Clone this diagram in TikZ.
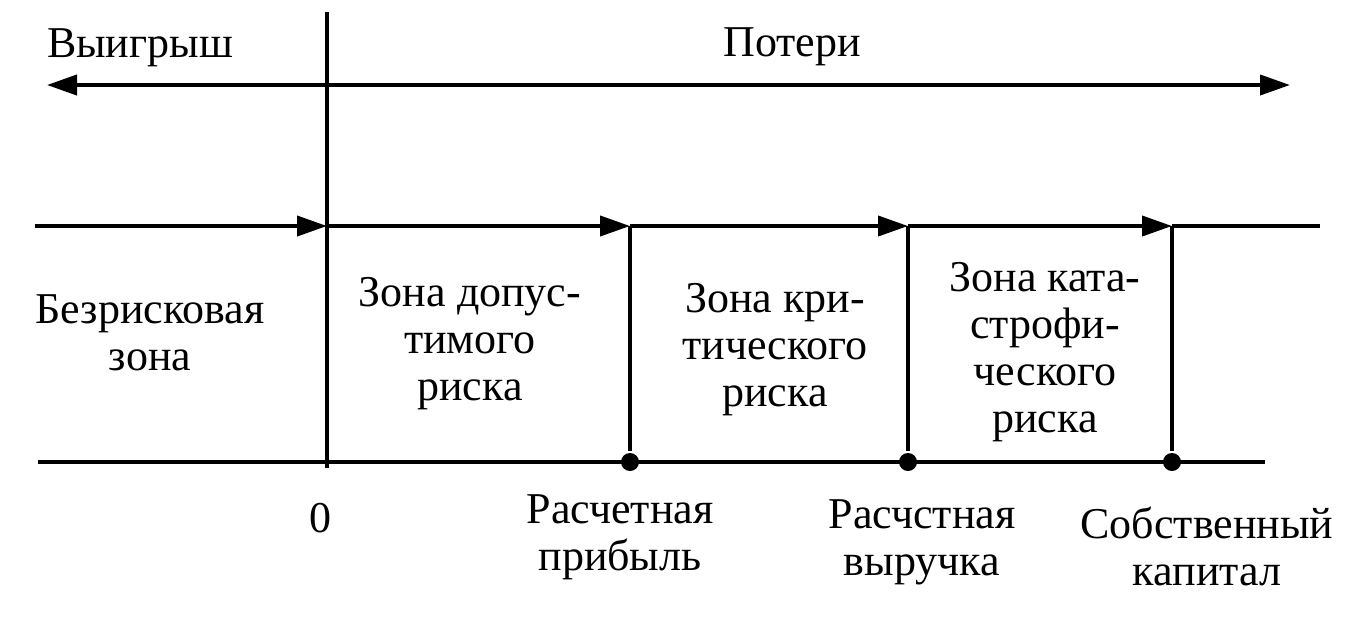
\documentclass[tikz,border=0pt]{standalone}
\usepackage{fontspec}
\setmainfont{Liberation Serif}
\usetikzlibrary{arrows.meta}
\begin{document}
\begin{tikzpicture}[x=0.5pt,y=-0.5pt,line width=2pt,>={Triangle[length=15pt,width=10pt]},
    font=\fontsize{22}{23.5}\selectfont]
    \tikzstyle{zone}=[align=center,inner sep=0pt]
    \tikzstyle{bullet}=[circle,fill,inner sep=0pt,minimum size=9pt]
    \useasboundingbox (0,0) rectangle (1364,617);

    % gain / loss axis
    \coordinate (top) at (327,12);
    \coordinate (bot) at (327,468);
    \draw (top) -- (bot);
    \coordinate (gain) at (47,85);
    \coordinate (loss) at (1290,85);
    \draw[<->] (gain) -- (loss);
    \node[zone] (win) at (140,48) {Выигрыш};
    \node[zone] (lose) at (792,47) {Потери};

    % zone borders
    \coordinate (M-0) at (35,226);
    \coordinate (M-1) at (327,226);
    \coordinate (M-5) at (1320,226);
    \coordinate (B-0) at (38,462);
    \coordinate (B-5) at (1265,462);
    \foreach \i/\x in {2/630,3/908,4/1172} {
        \coordinate (M-\i) at (\x,226);
        \node[bullet] (B-\i) at (\x,462) {};
        \draw (M-\i) -- (B-\i);
    }
    \foreach \a/\b in {0/1,1/2,2/3,3/4}
    \draw[->] (M-\a) -- (M-\b);
    \draw (M-4) -- (M-5);
    \draw (B-0) -- (B-5);

    \node[zone] (Z-0) at (150,333) {Безрисковая\\зона};
    \node[zone] (Z-1) at (470,344) {Зона допус-\\тимого\\риска};
    \node[zone] (Z-2) at (775,350) {Зона кри-\\тического\\риска};
    \node[zone] (Z-3) at (1045,352) {Зона ката-\\строфи-\\ческого\\риска};

    \node[zone] (L-1) at (320,518) {0};
    \node[zone] (L-2) at (620,537) {Расчетная\\прибыль};
    \node[zone] (L-3) at (922,542) {Расчстная\\выручка};
    \node[zone] (L-4) at (1207,546) {Собственный\\капитал};
\end{tikzpicture}
\end{document}
